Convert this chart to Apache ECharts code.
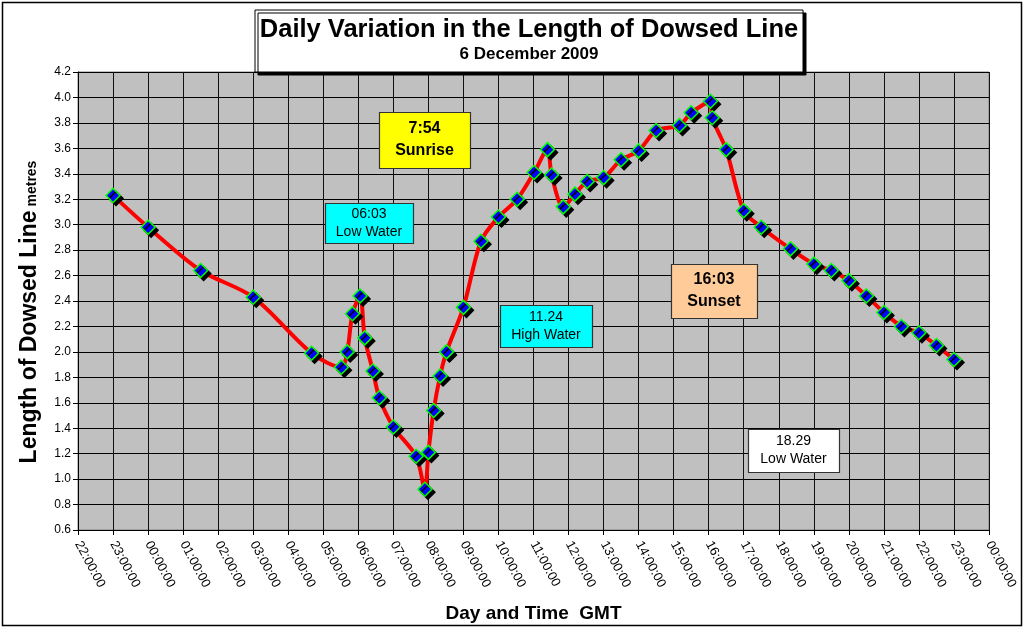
<!DOCTYPE html>
<html>
<head>
<meta charset="utf-8">
<script src="https://cdn.jsdelivr.net/npm/echarts@6/dist/echarts.min.js"></script>
<style>
  html, body { margin: 0; padding: 0; background: #fff; }
  #chart { width: 1025px; height: 629px; }
</style>
</head>
<body>
<div id="chart"></div>
<script>
// Время замеров (GMT), первая точка - вечер 5 декабря
var times = ['23:00', '00:00', '01:30', '03:00', '04:40', '05:31', '05:41', '05:50', '06:03', '06:11',
    '06:25', '06:36', '07:00', '07:39', '07:54', '08:00', '08:09', '08:20', '08:31', '09:00',
    '09:30', '10:00', '10:32', '11:01', '11:24', '11:31', '11:51', '12:11', '12:32', '13:00',
    '13:30', '14:00', '14:30', '15:10', '15:30', '16:03', '16:06', '16:30', '17:00', '17:30',
    '18:20', '19:00', '19:30', '20:00', '20:30', '21:00', '21:30', '22:00', '22:30', '23:00'];

// Длина линии, метры
var lengths = [3.23, 2.98, 2.64, 2.43, 1.99, 1.88, 2.00, 2.30, 2.44, 2.11,
    1.85, 1.64, 1.41, 1.18, 0.92, 1.21, 1.54, 1.81, 2.00, 2.35,
    2.87, 3.06, 3.20, 3.41, 3.59, 3.39, 3.14, 3.24, 3.34, 3.37,
    3.51, 3.58, 3.74, 3.78, 3.88, 3.97, 3.84, 3.59, 3.11, 2.98,
    2.81, 2.69, 2.64, 2.56, 2.44, 2.31, 2.20, 2.15, 2.05, 1.94];

var startHour = 22;   // ось X начинается в 22:00
var axisHours = 26;   // до 00:00 через сутки

// Подписи-пояснения
var notes = [
    { lines: ['7:54', 'Sunrise'], bold: true, fill: '#ffff00' },
    { lines: ['06:03', 'Low Water'], bold: false, fill: '#00ffff' },
    { lines: ['11.24', 'High Water'], bold: false, fill: '#00ffff' },
    { lines: ['16:03', 'Sunset'], bold: true, fill: '#ffcc99' },
    { lines: ['18.29', 'Low Water'], bold: false, fill: '#ffffff' }
];
var noteBoxes = [
    [379, 112, 91, 56],
    [325, 203, 88, 40],
    [500, 305, 92, 42],
    [671, 264, 86, 54],
    [748, 429, 91, 43]
];

// Перевод времени в часы от начала оси (с переходом через полночь)
var hours = [];
var dayShift = 0;
var prev = -1;
times.forEach(function (t) {
    var p = t.split(':');
    var clock = +p[0] + p[1] / 60;
    if (clock < prev) dayShift += 24;
    prev = clock;
    hours.push(clock + dayShift - startHour);
});
var points = hours.map(function (h, i) { return [h, lengths[i]]; });

function pad(n) { return (n < 10 ? '0' : '') + n; }

var font = 'Arial, "Liberation Sans", sans-serif';

var graphics = [
    {
        type: 'rect', z: 0, silent: true,
        shape: { x: 2.5, y: 2.5, width: 1019, height: 623 },
        style: { fill: 'none', stroke: '#000', lineWidth: 1.5 }
    },
    {
        type: 'rect', z: 100,
        shape: { x: 255, y: 10, width: 548, height: 62 },
        style: { fill: '#fff', stroke: '#000', lineWidth: 1,
            shadowColor: '#000', shadowOffsetX: 3, shadowOffsetY: 3, shadowBlur: 0 }
    },
    {
        type: 'text', z: 101,
        x: 529, y: 30,
        style: { text: 'Daily Variation in the Length of Dowsed Line', fill: '#000',
            font: 'bold 25.5px ' + font, textAlign: 'center', textVerticalAlign: 'middle' }
    },
    {
        type: 'text', z: 101,
        x: 529, y: 54,
        style: { text: '6 December 2009', fill: '#000',
            font: 'bold 17px ' + font, textAlign: 'center', textVerticalAlign: 'middle' }
    }
];

notes.forEach(function (n, i) {
    var b = noteBoxes[i];
    graphics.push({
        type: 'rect', z: 50,
        shape: { x: b[0] + 0.5, y: b[1] + 0.5, width: b[2], height: b[3] },
        style: { fill: n.fill, stroke: '#333', lineWidth: 1.2 }
    });
    graphics.push({
        type: 'text', z: 51,
        x: b[0] + b[2] / 2, y: b[1] + b[3] / 2,
        style: { text: n.lines.join('\n'), fill: '#000',
            font: (n.bold ? 'bold 16px ' : '14px ') + font,
            lineHeight: n.bold ? 22 : 18,
            textAlign: 'center', textVerticalAlign: 'middle' }
    });
});

var chart = echarts.init(document.getElementById('chart'));

var option = {
    backgroundColor: '#fff',
    animation: false,
    grid: {
        left: 78, right: 36, top: 72, bottom: 99,
        show: true,
        backgroundColor: '#c0c0c0',
        borderColor: '#808080',
        borderWidth: 1
    },
    xAxis: {
        type: 'value',
        min: 0,
        max: axisHours,
        interval: 1,
        name: 'Day and Time  GMT',
        nameLocation: 'middle',
        nameGap: 74,
        nameTextStyle: { fontFamily: font, fontWeight: 'bold', fontSize: 19, color: '#000' },
        axisLine: { onZero: false, lineStyle: { color: '#000', width: 1 } },
        axisTick: { show: true, length: 5, lineStyle: { color: '#000' } },
        axisLabel: {
            rotate: -62,
            fontFamily: font,
            fontSize: 13,
            color: '#000',
            margin: 12,
            formatter: function (v) { return pad((startHour + v) % 24) + ':00:00'; }
        },
        splitLine: { show: true, lineStyle: { color: '#111', width: 1 } }
    },
    yAxis: {
        type: 'value',
        min: 0.6,
        max: 4.2,
        interval: 0.2,
        name: '{a|Length of Dowsed Line}{b| metres}',
        nameLocation: 'middle',
        nameGap: 37,
        nameTextStyle: {
            color: '#000',
            padding: [0, 22, 0, 0],
            rich: {
                a: { fontFamily: font, fontWeight: 'bold', fontSize: 23, color: '#000' },
                b: { fontFamily: font, fontWeight: 'bold', fontSize: 14, color: '#000', padding: [5, 0, 0, 0] }
            }
        },
        axisLine: { show: true, lineStyle: { color: '#000', width: 1 } },
        axisTick: { show: true, length: 5, lineStyle: { color: '#000' } },
        axisLabel: {
            fontFamily: font,
            fontSize: 12,
            color: '#000',
            margin: 7,
            formatter: function (v) { return v.toFixed(1); }
        },
        splitLine: { show: true, lineStyle: { color: '#000', width: 1 } }
    },
    series: [{
        type: 'line',
        data: points,
        smooth: 0.3,
        symbol: 'diamond',
        symbolSize: 14,
        lineStyle: { color: '#ff0000', width: 4 },
        itemStyle: {
            color: '#0000ff',
            borderColor: '#00ff00',
            borderWidth: 1.5,
            shadowColor: '#000',
            shadowBlur: 0,
            shadowOffsetX: 3,
            shadowOffsetY: 3
        },
        z: 10
    }],
    graphic: graphics
};

chart.setOption(option);
</script>
</body>
</html>
